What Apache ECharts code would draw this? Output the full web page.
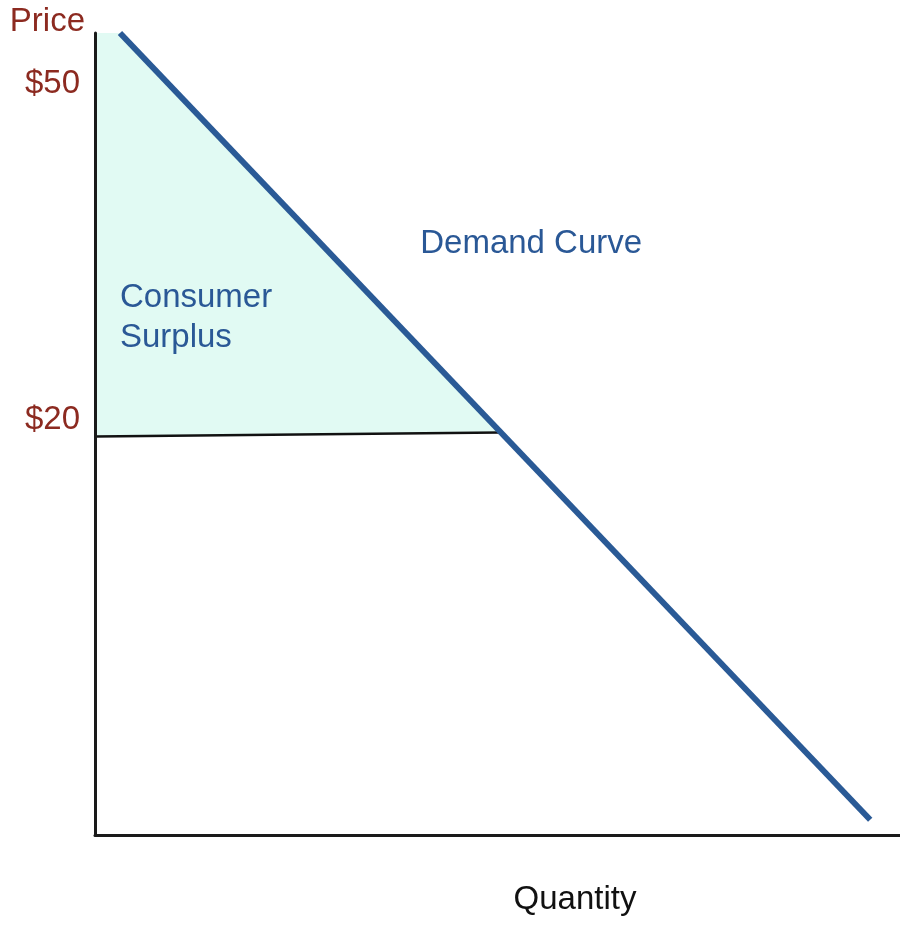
<!DOCTYPE html>
<html>
<head>
<meta charset="utf-8">
<script src="https://cdn.jsdelivr.net/npm/echarts@6/dist/echarts.min.js"></script>
<style>
	html, body { margin: 0; padding: 0; background: #fff; }
	#chart { width: 900px; height: 938px; }
</style>
</head>
<body>
<div id="chart"></div>
<script>
	// 坐标单位: 数量 0-100, 价格 0-100 (示意图, 不按比例)
	var demandQ = [3.1, 96.3];
	var demandP = [100, 1.9];

	var priceLineQ = [0, 50.3];   //$20 水平线
	var priceLineP = [49.7, 50.2];

	var surplusQ = [0, 3.1, 50.3, 0];   //消费者剩余三角形
	var surplusP = [100, 100, 50.2, 49.7];

	var tickValues = [93.6, 51.7];   //价格标签位置
	var tickLabels = ['$50', '$20'];

	var noteQ = [40.4, 3.1];
	var noteP = [73.7, 64.5];
	var noteText = ['Demand Curve', 'Consumer\nSurplus'];

	var FONT = '"Liberation Sans", Arial, sans-serif';
	var RED = '#8c2a20';
	var BLUE = '#2a5896';

	function pairs(xs, ys){
		var out = [];
		for(var i=0;i<xs.length;i++){
			out.push([xs[i], ys[i]]);
		}
		return out;
	}

	var chartOption = {
		animation: false,
		grid: {
			left: 95,
			right: 0,
			top: 33,
			bottom: 103
		},
		xAxis: {
			type: 'value',
			min: 0,
			max: 100,
			z: 5,
			name: 'Quantity',
			nameLocation: 'middle',
			nameGap: 48,
			nameTextStyle: {
				color: '#111',
				fontSize: 33,
				fontFamily: FONT,
				padding: [0, 0, 0, 155]
			},
			axisLine: { lineStyle: { color: '#1a1a1a', width: 3 } },
			axisTick: { show: false },
			axisLabel: { show: false },
			splitLine: { show: false }
		},
		yAxis: {
			type: 'value',
			min: 0,
			max: 100,
			z: 5,
			name: 'Price',
			nameLocation: 'end',
			nameGap: 11,
			nameTextStyle: {
				color: RED,
				fontSize: 33,
				fontFamily: FONT,
				align: 'right',
				verticalAlign: 'middle',
				padding: [0, 10, 0, 0]
			},
			axisLine: { show: true, lineStyle: { color: '#1a1a1a', width: 3 } },
			axisTick: { show: false },
			splitLine: { show: false },
			axisLabel: {
				customValues: tickValues,
				margin: 15,
				color: RED,
				fontSize: 33,
				fontFamily: FONT,
				formatter: function(v){
					var i = tickValues.indexOf(v);
					return i >= 0 ? tickLabels[i] : '';
				}
			}
		},
		series: [{
			name: 'Consumer Surplus',
			type: 'custom',
			z: 1,
			data: [0],
			renderItem: function(params, api){
				var pts = [];
				for(var i=0;i<surplusQ.length;i++){
					pts.push(api.coord([surplusQ[i], surplusP[i]]));
				}
				return {
					type: 'polygon',
					shape: { points: pts },
					style: { fill: '#e1faf3', stroke: null }
				};
			}
		},
		{
			name: 'Price line',
			type: 'line',
			z: 2,
			symbol: 'none',
			data: pairs(priceLineQ, priceLineP),
			lineStyle: { color: '#111', width: 2.5 }
		},
		{
			name: 'Demand',
			type: 'line',
			z: 3,
			symbol: 'none',
			data: pairs(demandQ, demandP),
			lineStyle: { color: '#2a5a96', width: 6 }
		},
		{
			name: 'Notes',
			type: 'scatter',
			z: 4,
			symbolSize: 0,
			silent: true,
			itemStyle: { opacity: 1 },
			data: noteQ.map(function(q, i){ return [q, noteP[i], noteText[i]]; }),
			label: {
				show: true,
				position: 'right',
				distance: 0,
				color: BLUE,
				fontSize: 33,
				lineHeight: 40,
				fontFamily: FONT,
				formatter: function(p){ return p.value[2]; }
			}
		}]
	};

	var lineChart = echarts.init(document.getElementById('chart'));
	lineChart.setOption(chartOption);
</script>
</body>
</html>
